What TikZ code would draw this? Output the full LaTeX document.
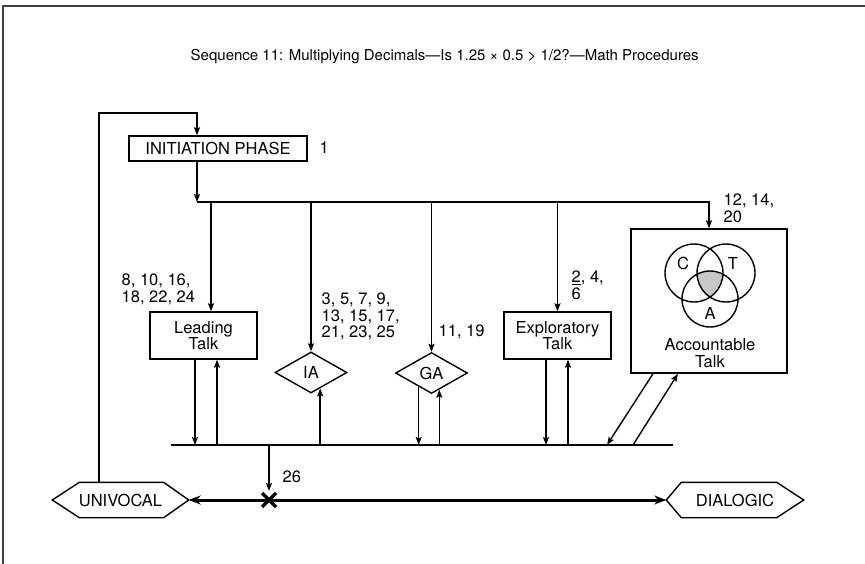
\documentclass[tikz,border=0pt]{standalone}
\usepackage{fontspec}
\setmainfont{TeX Gyre Heros}
\usetikzlibrary{arrows.meta,shapes.geometric}
\tikzset{
  talkbox/.style={draw, minimum width=107pt, minimum height=47pt, align=center, inner sep=0pt},
  talkdia/.style={draw, diamond, minimum width=72pt, minimum height=41pt, inner sep=0pt},
  hexlbl/.style={minimum height=34pt, inner sep=0pt},
  nums/.style={align=left, inner sep=0pt, anchor=north west},
}
\begin{document}
\begin{tikzpicture}[x=1pt, y=-1pt, line width=1.4pt, >={Stealth[length=8pt,width=6pt,inset=1.5pt]}, font=\fontsize{16.5}{16.7}\selectfont]
\useasboundingbox (0,0) rectangle (865,564);
% frame and title
\draw[black!75, line width=1.8pt] (3,564) -- (3,6) -- (865,6);
\node[anchor=west, inner sep=0pt, font=\fontsize{15}{16}\selectfont] (title) at (190,57) {Sequence 11: Multiplying Decimals—Is 1.25 × 0.5 > 1/2?—Math Procedures};

% phases
\node[draw, minimum width=178pt, minimum height=25pt, inner sep=0pt] (init) at (218,148.5) {INITIATION PHASE};
\node[anchor=west, inner sep=0pt] (one) at (319,148) {1};
\node[talkbox] (lead) at (203.5,335.5) {Leading\\Talk};
\node[talkdia] (ia) at (311,372.5) {IA};
\node[talkdia] (ga) at (431.5,373) {GA};
\node[talkbox] (expl) at (557.5,335.5) {Exploratory\\Talk};
\node[draw, minimum width=156pt, minimum height=144pt, inner sep=0pt] (acc) at (709,301) {};
\node[align=center, inner sep=0pt] (acclbl) at (710,353) {Accountable\\Talk};

% venn
\begin{scope}
  \clip (694,273) circle (29pt);
  \clip (726,273) circle (29pt);
  \fill[black!22] (710,299) circle (28pt);
\end{scope}
\draw (694,273) circle (29pt) (726,273) circle (29pt) (710,299) circle (28pt);
\node[inner sep=0pt] (vc) at (683,263) {C};
\node[inner sep=0pt] (vt) at (733,263) {T};
\node[inner sep=0pt] (va) at (710,313) {A};

% univocal -- dialogic
\node[hexlbl, minimum width=135pt] (univ) at (120.5,500) {UNIVOCAL};
\node[hexlbl, minimum width=136pt] (dial) at (735,500) {DIALOGIC};
\draw (univ.west) -- ([xshift=27pt]univ.north west) -- ([xshift=-25pt]univ.north east) -- (univ.east)
  -- ([xshift=-25pt]univ.south east) -- ([xshift=27pt]univ.south west) -- cycle;
\draw (dial.west) -- ([xshift=15pt]dial.north west) -- ([xshift=-27pt]dial.north east) -- (dial.east)
  -- ([xshift=-27pt]dial.south east) -- ([xshift=15pt]dial.south west) -- cycle;
\draw[{Stealth[length=12pt,width=9pt]}-{Stealth[length=12pt,width=9pt]}, line width=3pt] (univ.east) -- (dial.west);
\coordinate (cross) at (269,500);
\draw[line width=3.5pt] (cross) ++(-7,-7) -- ++(14,14) (cross) ++(-7,7) -- ++(14,-14);

% flow
\coordinate (loop) at (99,113);
\coordinate (split) at (197,202);
\draw[->] (univ.north -| loop) |- (loop -| split) -- (init.north -| split);
\draw[->] (init.south -| split) -- (split);
\draw[->] (split) -| (acc.north);
\coordinate (lt) at ([xshift=7.5pt]lead.north);
\draw[->] (lt |- split) -- (lt);
\draw[->] (ia.north |- split) -- (ia.north);
\draw[->] (ga.north |- split) -- (ga.north);
\draw[->] (expl.north |- split) -- (expl.north);

% bus
\coordinate (busL) at (171,445);
\coordinate (busR) at (673,445);
\draw (busL) -- (busR);
\coordinate (ld) at ([xshift=-8.5pt]lead.south);
\coordinate (lu) at ([xshift=13.5pt]lead.south);
\draw[->] (ld) -- (ld |- busL);
\draw[<-] (lu) -- (lu |- busL);
\coordinate (iu) at (ia.-60);
\draw[<-] (iu) -- (iu |- busL);
\coordinate (gd) at (ga.-133);
\coordinate (gu) at (ga.-65);
\draw[->] (gd) -- (gd |- busL);
\draw[<-] (gu) -- (gu |- busL);
\coordinate (ed) at ([xshift=-11.5pt]expl.south);
\coordinate (eu) at ([xshift=10.5pt]expl.south);
\draw[->] (ed) -- (ed |- busL);
\draw[<-] (eu) -- (eu |- busL);
\coordinate (accdn) at (607,445);
\coordinate (accup) at (633,445);
\draw[->] ([xshift=-56pt]acc.south) -- (accdn);
\draw[->] (accup) -- ([xshift=-31pt]acc.south);
\draw[->] (cross |- busL) -- ([yshift=9pt]cross);

% turn numbers
\node[nums] (lblead) at (121,273) {8, 10, 16,\\18, 22, 24};
\node[nums] (lbia) at (321,292) {3, 5, 7, 9,\\13, 15, 17,\\21, 23, 25};
\node[nums] (lbga) at (438,324) {11, 19};
\node[nums] (lbexpl) at (571,270) {\underline{2}, 4,\\6};
\node[nums] (lbacc) at (723,193) {12, 14,\\20};
\node[nums] (lbcross) at (282,470) {26};
\end{tikzpicture}
\end{document}
